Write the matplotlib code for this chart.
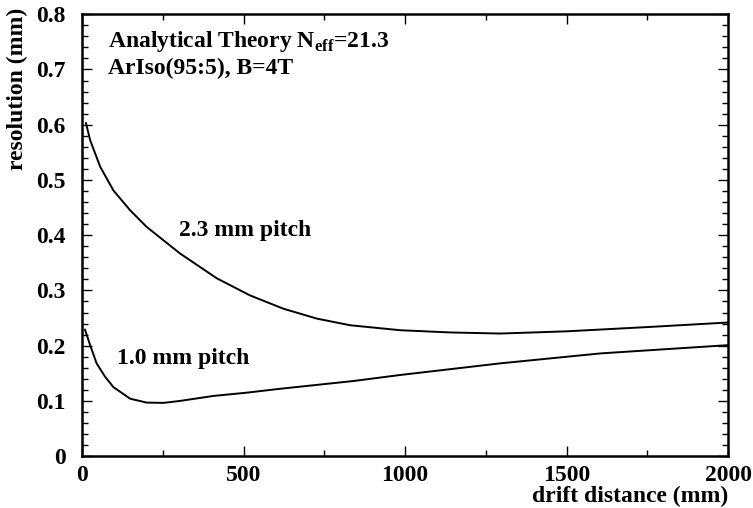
import matplotlib
matplotlib.use("Agg")
import matplotlib.pyplot as plt
from matplotlib.ticker import MultipleLocator

plt.rcParams['font.family'] = ['Liberation Serif', 'DejaVu Serif']
plt.rcParams['font.weight'] = 'bold'
plt.rcParams['mathtext.fontset'] = 'custom'
plt.rcParams['mathtext.rm'] = 'Liberation Serif:bold'
plt.rcParams['mathtext.bf'] = 'Liberation Serif:bold'

# values
drift_23 = [12, 25, 56, 97, 149, 200, 303, 417, 520, 623, 727, 830, 985, 1139, 1294, 1500, 1759, 2000]
res_23 = [0.603, 0.572, 0.524, 0.481, 0.445, 0.415, 0.367, 0.322, 0.291, 0.267, 0.249, 0.237,
          0.228, 0.224, 0.222, 0.226, 0.234, 0.242]

drift_10 = [9, 25, 45, 71, 97, 149, 200, 252, 303, 406, 510, 613, 839, 985, 1294, 1604, 2000]
res_10 = [0.229, 0.201, 0.168, 0.144, 0.125, 0.104, 0.097, 0.0965, 0.100, 0.109, 0.115, 0.122,
          0.136, 0.147, 0.168, 0.186, 0.201]

fig = plt.figure(figsize=(7.53, 5.08), dpi=100)
ax = fig.add_axes([0.109, 0.102, 0.858, 0.870])

ax.plot(drift_23, res_23, color='black', lw=1.4)
ax.plot(drift_10, res_10, color='black', lw=1.4)

ax.set_xlim(0, 2000)
ax.set_ylim(0, 0.8)
ax.xaxis.set_major_locator(MultipleLocator(500))
ax.xaxis.set_minor_locator(MultipleLocator(250))
ax.yaxis.set_minor_locator(MultipleLocator(0.02))
ax.set_yticks([0, 0.1, 0.2, 0.3, 0.4, 0.5, 0.6, 0.7, 0.8])
ax.set_yticklabels(['0', '0.1', '0.2', '0.3', '0.4', '0.5', '0.6', '0.7', '0.8'])
ax.tick_params(which='both', direction='in', top=True, right=True, labelsize=17)
ax.tick_params(which='major', length=7, width=1)
ax.tick_params(which='minor', length=4, width=1)
ax.tick_params(axis='x', pad=6)
ax.tick_params(axis='y', pad=12)
for s in ax.spines.values():
    s.set_linewidth(1.8)

ax.set_xlabel('drift distance (mm)', fontsize=17, fontweight='bold', ha='right', x=1.0, labelpad=0)
ax.set_ylabel('resolution (mm)', fontsize=17, fontweight='bold', ha='right', y=1.014, labelpad=6)

ax.text(0.040, 0.925, r'Analytical Theory N$_{\mathregular{eff}}$=21.3', transform=ax.transAxes,
        fontsize=17, fontweight='bold', va='baseline')
ax.text(0.040, 0.864, 'ArIso(95:5), B=4T', transform=ax.transAxes,
        fontsize=17, fontweight='bold', va='baseline')
ax.text(300, 0.398, '2.3 mm pitch', fontsize=17, fontweight='bold', va='baseline')
ax.text(108, 0.1665, '1.0 mm pitch', fontsize=17, fontweight='bold', va='baseline')

fig.savefig('out.png', dpi=100)
